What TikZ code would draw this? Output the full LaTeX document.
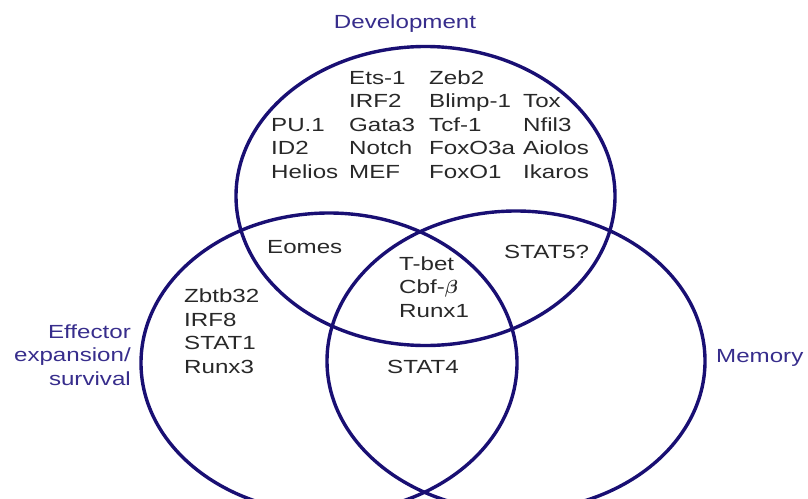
\RequirePackage{fix-cm}
\documentclass[tikz,border=0pt]{standalone}
\usepackage{amsmath}
\usepackage{fontspec}
\setmainfont{Liberation Sans}[FakeStretch=1.27]
\usetikzlibrary{positioning}

\definecolor{vennblue}{RGB}{25,15,115}
\definecolor{labelblue}{RGB}{55,45,140}
\definecolor{genegray}{RGB}{40,40,40}

\begin{document}
\begin{tikzpicture}[x=1pt,y=-1pt]

% Venn style
\tikzset{
    venn/.style={draw=vennblue, line width=3.4pt},
    genes/.style={anchor=base west, inner sep=0pt, align=left, text=genegray,
        font=\fontsize{19}{23.5}\selectfont},
    title/.style={inner sep=0pt, text=labelblue, font=\fontsize{19}{23.5}\selectfont}
}

\useasboundingbox (0,0) rectangle (808,498);

% Circles
\coordinate (devC) at (425.5,196);
\coordinate (effC) at (329,363);
\coordinate (memC) at (516,361);
\draw[venn] (devC) ellipse [x radius=189.5pt, y radius=149.5pt];
\draw[venn] (effC) ellipse [x radius=188pt, y radius=150pt];
\draw[venn] (memC) ellipse [x radius=189pt, y radius=150pt];

% Titles (base = last line)
\node[title, anchor=base] (dev) at (405,28) {Development};
\node[title, anchor=base east, align=right] (eff) at (131,385) {Effector\\expansion/\\survival};
\node[title, anchor=base west] (mem) at (716,362) {Memory};

% Factors
\node[genes] (devA) at (271,178) {PU.1\\ID2\\Helios};
\node[genes] (devB) at (349,178) {Ets-1\\IRF2\\Gata3\\Notch\\MEF};
\node[genes] (devCc) at (429,178) {Zeb2\\Blimp-1\\Tcf-1\\FoxO3a\\FoxO1};
\node[genes] (devD) at (523,178) {Tox\\Nfil3\\Aiolos\\Ikaros};
\node[genes] (eomes) at (267,253) {Eomes};
\node[genes] (core) at (399,317) {T-bet\\Cbf-$\boldsymbol{\beta}$\\Runx1};
\node[genes] (effA) at (184,373) {Zbtb32\\IRF8\\STAT1\\Runx3};
\node[genes] (stat4) at (387,373) {STAT4};
\node[genes] (stat5) at (504,258) {STAT5?};

\end{tikzpicture}
\end{document}
